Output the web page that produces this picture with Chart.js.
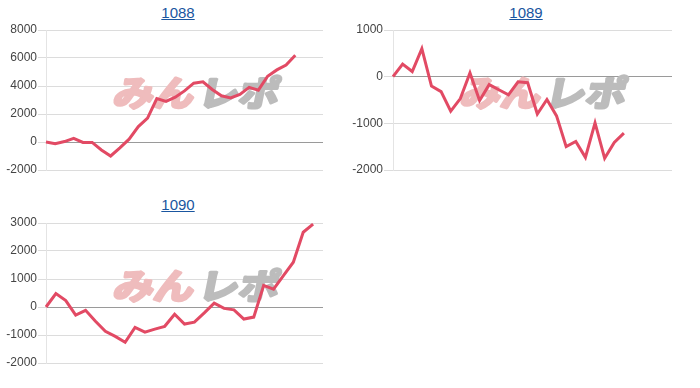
<!DOCTYPE html>
<html>
<head>
<meta charset="utf-8">
<script src="https://cdn.jsdelivr.net/npm/chart.js@4/dist/chart.umd.min.js"></script>
<style>
  body { margin: 0; background: #fff; width: 700px; height: 388px; overflow: hidden; position: relative; font-family: "Liberation Sans", Arial, sans-serif; }
  .box { position: absolute; }
  .ttl { position: absolute; font-size: 15px; color: #1a56a0; text-decoration: underline; transform: translateX(-50%); }
</style>
</head>
<body>

<a class="ttl" style="left:178px; top:4px;">1088</a>
<a class="ttl" style="left:526px; top:4px;">1089</a>
<a class="ttl" style="left:178px; top:196px;">1090</a>

<div class="box" style="left:0; top:0; width:340px; height:185px;"><canvas id="g1088"></canvas></div>
<div class="box" style="left:340px; top:0; width:360px; height:185px;"><canvas id="g1089"></canvas></div>
<div class="box" style="left:0; top:190px; width:340px; height:198px;"><canvas id="g1090"></canvas></div>

<script>
// 日付 (横軸の区分)
let dias1088 = ["1","2","3","4","5","6","7","8","9","10","11","12","13","14","15","16","17","18","19","20","21","22","23","24","25","26","27","28","29","30","31"];
let dias1089 = ["1","2","3","4","5","6","7","8","9","10","11","12","13","14","15","16","17","18","19","20","21","22","23","24","25","26","27","28","29","30"];
let dias1090 = ["1","2","3","4","5","6","7","8","9","10","11","12","13","14","15","16","17","18","19","20","21","22","23","24","25","26","27","28","29"];

// 差枚の推移
let valores1088 = [0, -120, 30, 260, -30, -30, -570, -1000, -420, 200, 1100, 1700, 3100, 2900, 3200, 3650, 4200, 4300, 3750, 3300, 3150, 3400, 3900, 3700, 4700, 5150, 5500, 6200];
let valores1089 = [0, 270, 110, 600, -200, -320, -740, -470, 80, -510, -170, -280, -390, -110, -130, -800, -490, -840, -1500, -1390, -1730, -990, -1750, -1410, -1210];
let valores1090 = [0, 480, 230, -290, -120, -510, -870, -1050, -1260, -730, -900, -790, -690, -260, -610, -540, -210, 140, -50, -100, -430, -360, 770, 640, 1120, 1600, 2670, 2960];

// 縦軸の目盛り
let ticks1088 = [-2000, 0, 2000, 4000, 6000, 8000];
let ticks1089 = [-2000, -1000, 0, 1000];
let ticks1090 = [-2000, -1000, 0, 1000, 2000, 3000];

let marcaDagua = {
    id: 'marcaDagua',
    beforeDatasetsDraw(chart) {
        let ctx = chart.ctx;
        let a = chart.chartArea;
        ctx.save();
        ctx.font = 'bold 35px "Noto Sans CJK JP"';
        ctx.textBaseline = 'alphabetic';
        ctx.lineJoin = 'round';
        ctx.lineWidth = 3;
        ctx.translate(a.left + 66, a.top + 76);
        ctx.transform(1.15, 0, -0.2, 1, 0, 0);
        ctx.fillStyle = ctx.strokeStyle = '#efbcbd';
        ctx.strokeText('みん', 0, 0);
        ctx.fillText('みん', 0, 0);
        ctx.fillStyle = ctx.strokeStyle = '#bcbcbc';
        ctx.strokeText('レポ', 74, 0);
        ctx.fillText('レポ', 74, 0);
        ctx.restore();
    }
};

function criarGrafico(id, labels, valores, ticks, larguraEixo, padding, marca) {
    let ctx = document.getElementById(id).getContext('2d');
    return new Chart(ctx, {
        type: 'line',
        data: {
            labels: labels,
            datasets: [{
                data: valores,
                borderColor: '#e24a64',
                borderWidth: 3,
                pointRadius: 0,
                tension: 0,
                fill: false
            }]
        },
        options: {
            responsive: true,
            maintainAspectRatio: false,
            animation: false,
            layout: { padding: padding },
            plugins: {
                legend: { display: false },
                tooltip: { enabled: false }
            },
            scales: {
                x: { display: false },
                y: {
                    min: ticks[0],
                    max: ticks[ticks.length - 1],
                    afterBuildTicks: (s) => { s.ticks = ticks.map(v => ({ value: v })); },
                    afterFit: (s) => { s.width = larguraEixo; },
                    border: { color: '#e4e4e4', width: 1 },
                    grid: {
                        drawTicks: true,
                        tickLength: marca,
                        tickColor: '#dcdcdc',
                        color: (c) => c.tick && c.tick.value === 0 ? '#9a9a9a' : '#dcdcdc'
                    },
                    ticks: {
                        padding: 1,
                        color: '#444',
                        font: { family: '"Liberation Sans", Arial, sans-serif', size: 12 },
                        callback: (v) => String(v)
                    }
                }
            }
        },
        plugins: [marcaDagua]
    });
}

criarGrafico('g1088', dias1088, valores1088, ticks1088, 46, { top: 30, right: 17, bottom: 15, left: 0 }, 8);
criarGrafico('g1089', dias1089, valores1089, ticks1089, 53, { top: 30, right: 28, bottom: 15, left: 0 }, 9);
criarGrafico('g1090', dias1090, valores1090, ticks1090, 46, { top: 33, right: 17, bottom: 25, left: 0 }, 8);
</script>
</body>
</html>
